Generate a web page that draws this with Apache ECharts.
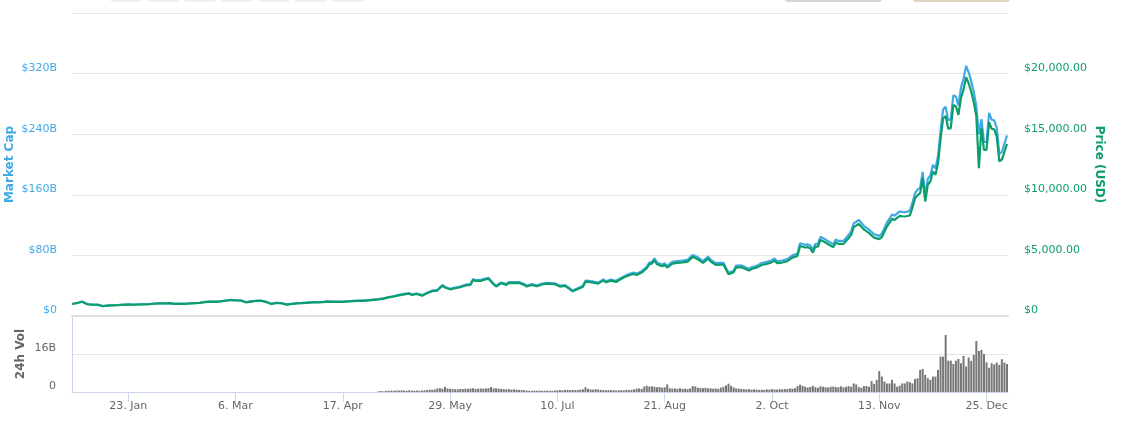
<!DOCTYPE html>
<html>
<head>
<meta charset="utf-8">
<style>
  html, body { margin: 0; padding: 0; background: #ffffff; }
  #chart { width: 1122px; height: 422px; }
</style>
<script src="https://cdn.jsdelivr.net/npm/echarts@6/dist/echarts.min.js"></script>
</head>
<body>
<div id="chart"></div>
<script>
// ---- x axis: days counted from 1 Jan 2017 ----
const tickDays   = [22, 64, 106, 148, 190, 232, 274, 316, 358];
const tickLabels = ['23. Jan', '6. Mar', '17. Apr', '29. May', '10. Jul', '21. Aug', '2. Oct', '13. Nov', '25. Dec'];
const lastDay = 366.4;

// ---- sample days for the price / market-cap lines ----
const days = [
  0,2,4,6,8,10,12,14,16,18,
  20,22,24,26,28,30,32,34,36,38,
  40,42,44,46,48,50,52,54,56,58,
  60,62,64,66,68,70,72,74,76,78,
  80,82,84,86,88,90,92,94,96,98,
  100,102,104,106,108,110,112,114,116,118,
  120,122,124,126,128,130,132,133,135,137,
  139,141,143,145,146,148,150,152,154,156,
  157,158,160,161,163,165,166,168,170,171,
  173,175,177,178,180,182,184,186,188,189,
  191,193,194,196,198,200,201,203,206,208,
  209,211,213,214,216,218,220,221,223,225,
  226,227,228,229,231,232,233,235,237,239,
  241,243,245,247,249,250,252,254,255,257,
  259,260,262,263,265,266,268,270,272,274,
  275,276,278,280,282,284,285,287,288,289,
  290,291,292,293,295,296,298,299,300,302,
  304,305,306,308,310,312,314,316,317,318,
  319,321,322,324,325,326,327,328,329,330,
  331,332,333,334,335,336,337,338,339,340,
  341,342,343,344,345,346,347,348,349,350,
  351,352,353,354,355,356,357,358,359,360,
  361,362,363,364,365,366
];

// ---- price (USD) ----
const price = [
  990,1070,1180,970,930,930,820,860,880,900,
  930,950,930,950,960,970,1010,1040,1030,1060,
  1000,1010,1000,1030,1060,1080,1150,1180,1170,1200,
  1260,1320,1290,1280,1130,1190,1240,1260,1150,990,
  1080,1050,940,990,1040,1060,1090,1120,1130,1140,
  1190,1170,1160,1170,1200,1220,1240,1250,1290,1330,
  1370,1430,1540,1610,1700,1790,1845,1740,1820,1680,
  1870,2050,2100,2500,2350,2200,2290,2370,2520,2570,
  2970,2890,2900,2970,3080,2620,2430,2700,2570,2720,
  2730,2720,2570,2430,2560,2450,2600,2670,2640,2620,
  2430,2480,2340,2040,2230,2420,2830,2800,2670,2940,
  2780,2920,2800,2950,3170,3360,3470,3390,3580,3940,
  4270,4320,4600,4270,4100,4210,4000,4320,4380,4430,
  4490,4880,4680,4380,4740,4490,4220,4240,4240,3440,
  3610,4020,4020,3940,3750,3880,3990,4210,4300,4440,
  4570,4350,4410,4520,4820,4960,5780,5650,5680,5590,
  5230,5730,5730,6280,6060,5920,5680,6060,5950,5950,
  6420,6690,7330,7600,7140,6840,6470,6340,6500,6950,
  7380,8020,7930,8260,8230,8210,8250,8300,8950,9700,
  9980,10140,11380,9450,10830,11100,11930,11650,12600,14600,
  16300,16500,15450,15500,17400,17300,16600,18000,18700,19700,
  19200,18500,17650,16500,12200,15500,13700,13700,16000,15450,
  15400,14800,12750,12900,13550,14200
];

// ---- market cap (billion USD) ----
const marketCap = [
  15.9,17.2,19.0,15.6,15.0,15.0,13.2,13.9,14.2,14.5,
  15.0,15.3,15.0,15.3,15.5,15.7,16.3,16.8,16.6,17.1,
  16.2,16.3,16.2,16.7,17.1,17.5,18.6,19.1,18.9,19.4,
  20.4,21.4,20.9,20.7,18.3,19.3,20.1,20.4,18.7,16.1,
  17.5,17.0,15.3,16.1,16.9,17.2,17.7,18.2,18.4,18.5,
  19.4,19.0,18.9,19.1,19.5,19.9,20.2,20.4,21.0,21.7,
  22.3,23.3,25.1,26.3,27.8,29.2,30.1,28.4,29.7,27.5,
  30.6,33.5,34.3,40.9,38.4,36.0,37.5,38.8,41.3,42.1,
  48.7,47.3,47.5,48.7,50.5,43.0,39.8,44.3,42.2,44.6,
  44.8,44.7,42.2,39.9,42.1,40.3,42.7,43.9,43.4,43.1,
  40.0,40.8,38.5,33.6,36.7,39.8,46.6,46.1,44.0,48.4,
  45.8,48.1,46.2,48.6,52.3,55.4,57.3,55.9,59.1,65.1,
  70.5,71.3,76.0,70.5,67.7,69.6,66.1,71.4,72.4,73.3,
  74.3,80.7,77.5,72.5,78.5,74.4,69.9,70.2,70.3,57.0,
  59.8,66.6,66.7,65.3,62.2,64.4,66.2,69.9,71.4,73.7,
  75.9,72.3,73.3,75.1,80.1,82.5,96.1,94.0,94.5,93.0,
  87.0,95.3,95.4,104.5,100.9,98.6,94.6,100.9,99.1,99.1,
  107.0,111.5,122.2,126.7,119.1,114.1,107.9,105.8,108.5,116.0,
  123.2,133.9,132.4,138.0,137.5,137.2,137.8,138.7,149.6,162.1,
  166.8,169.5,190.3,158.0,181.1,185.6,199.6,194.9,210.8,244.3,
  272.8,276.2,258.6,259.5,291.3,289.7,278.0,301.5,313.2,330.0,
  321.7,310.0,295.8,276.5,240.0,259.8,229.7,229.7,268.3,259.1,
  258.3,248.3,213.9,216.5,227.4,238.3
];

// ---- 24h volume (billion USD), one bar per day starting at volumeFirstDay ----
const volumeFirstDay = 120;
const volume = [
  0.3,0.4,0.3,0.5,0.5,0.6,0.5,0.7,0.6,0.7,
  0.6,0.5,0.7,0.6,0.5,0.6,0.5,0.6,0.7,0.8,
  1.0,0.9,1.1,1.5,1.6,1.4,2.2,1.5,1.3,1.2,
  1.2,1.1,1.3,1.2,1.4,1.3,1.5,1.6,1.3,1.4,
  1.5,1.4,1.5,1.6,2.1,1.5,1.6,1.4,1.3,1.2,
  1.1,1.2,1.0,1.1,1.0,0.9,0.8,0.8,0.6,0.5,
  0.5,0.6,0.5,0.6,0.5,0.5,0.6,0.5,0.5,0.6,
  0.7,0.8,0.7,0.8,0.9,0.8,0.9,0.8,0.8,1.0,
  1.1,2.0,1.3,1.1,1.0,1.2,1.0,0.9,0.8,0.7,
  0.8,0.7,0.8,0.6,0.7,0.8,0.7,0.9,0.8,0.9,
  1.1,1.4,1.5,1.3,2.3,2.6,2.3,2.4,2.2,2.0,
  2.1,1.8,2.0,3.2,1.6,1.4,1.5,1.3,1.6,1.3,
  1.4,1.2,1.5,2.5,2.3,1.8,1.7,1.6,1.8,1.5,
  1.6,1.4,1.5,1.3,1.8,2.2,2.8,3.5,2.6,1.9,
  1.5,1.4,1.3,1.2,1.1,1.2,1.0,1.1,1.0,0.9,
  1.0,0.9,1.1,1.0,1.2,1.1,1.0,1.2,1.1,1.3,
  1.2,1.5,1.4,1.6,2.5,3.1,2.6,2.2,1.9,2.1,
  2.6,2.0,1.8,2.4,2.2,2.0,1.9,2.2,2.3,2.1,
  2.0,2.4,1.9,2.2,2.5,2.2,3.6,3.2,2.0,1.8,
  2.5,2.5,2.2,4.6,3.4,5.1,8.8,6.5,4.4,3.6,
  3.6,5.1,3.6,2.2,2.7,3.6,3.6,4.4,4.1,3.6,
  5.5,5.8,9.3,9.7,7.2,5.8,5.1,6.5,6.5,9.3,
  14.9,14.9,24.0,13.2,13.2,11.8,13.2,13.9,12.1,15.2,
  10.7,14.5,13.1,15.6,21.5,17.3,17.7,16.0,12.5,10.2,
  12.1,11.6,12.4,11.4,13.8,12.4,11.8
];

const BLUE = '#3fa9e6';
const GREEN = '#0b9e6b';
const GREY_TXT = '#666666';
const FONT = 'DejaVu Sans';

const capData = days.map((d, i) => [d, marketCap[i]]);
const priceData = days.map((d, i) => [d, price[i]]);
const volData = volume.map((v, i) => [volumeFirstDay + i, v]);

function fmtPrice(v) {
  if (v === 0) return '$0';
  return '$' + v.toLocaleString('en-US', { minimumFractionDigits: 2, maximumFractionDigits: 2 });
}

const chart = echarts.init(document.getElementById('chart'), null, { renderer: 'canvas' });

const topButtons = [];
[110, 147, 184, 221, 258, 295, 332].forEach(x => {
  topButtons.push({ type: 'rect', shape: { x: x, y: -20, width: 32, height: 21, r: 3 },
    style: { fill: '#f7f7f7', stroke: '#e6e6e6', lineWidth: 1 } });
});
topButtons.push({ type: 'rect', shape: { x: 786, y: -20, width: 95, height: 21, r: 2 },
  style: { fill: '#ffffff', stroke: '#c8c8c8', lineWidth: 1.5 } });
topButtons.push({ type: 'rect', shape: { x: 914, y: -20, width: 95, height: 21, r: 2 },
  style: { fill: '#ffffff', stroke: '#d6c7ab', lineWidth: 1.5 } });

chart.setOption({
  animation: false,
  backgroundColor: '#ffffff',
  textStyle: { fontFamily: FONT },
  graphic: topButtons,
  grid: [
    { left: 72, right: 114, top: 13, height: 303, containLabel: false, outerBoundsMode: 'none' },
    { left: 72, right: 114, top: 316, height: 76, containLabel: false, outerBoundsMode: 'none' }
  ],
  xAxis: [
    {
      type: 'value', gridIndex: 0, min: 0, max: lastDay,
      axisLine: { show: true, lineStyle: { color: '#e0e0e0', width: 2 } },
      axisTick: { show: false }, axisLabel: { show: false }, splitLine: { show: false }
    },
    {
      type: 'value', gridIndex: 1, min: 0, max: lastDay,
      axisLine: { show: true, lineStyle: { color: '#ccd6eb', width: 1 } },
      axisTick: { show: true, length: 10, customValues: tickDays, lineStyle: { color: '#ccd6eb' } },
      axisLabel: {
        show: true, customValues: tickDays, color: GREY_TXT, fontSize: 11, fontFamily: FONT, margin: 9,
        formatter: v => tickLabels[tickDays.indexOf(v)] || ''
      },
      splitLine: { show: false }
    }
  ],
  yAxis: [
    {
      type: 'value', gridIndex: 0, position: 'left', min: 0, max: 400, interval: 80,
      name: 'Market Cap', nameLocation: 'middle', nameRotate: 90, nameGap: 56, nameMoveOverlap: false,
      nameTextStyle: { color: BLUE, fontWeight: 'bold', fontSize: 12, fontFamily: FONT },
      axisLine: { show: false }, axisTick: { show: false },
      axisLabel: {
        color: BLUE, fontSize: 11, fontFamily: FONT, margin: 15, verticalAlign: 'bottom',
        showMaxLabel: false, formatter: v => (v === 0 ? '$0' : '$' + v + 'B')
      },
      splitLine: { lineStyle: { color: '#e6e6e6', width: 1 } }
    },
    {
      type: 'value', gridIndex: 0, position: 'right', min: 0, max: 25000, interval: 5000,
      name: 'Price (USD)', nameLocation: 'middle', nameRotate: -90, nameGap: 85, nameMoveOverlap: false,
      nameTextStyle: { color: GREEN, fontWeight: 'bold', fontSize: 12, fontFamily: FONT },
      axisLine: { show: false }, axisTick: { show: false },
      axisLabel: {
        color: GREEN, fontSize: 11, fontFamily: FONT, margin: 16, verticalAlign: 'bottom',
        showMaxLabel: false, formatter: fmtPrice
      },
      splitLine: { show: false }
    },
    {
      type: 'value', gridIndex: 1, position: 'left', min: 0, max: 32, interval: 16, offset: 2,
      name: '24h Vol', nameLocation: 'middle', nameRotate: 90, nameGap: 43, nameMoveOverlap: false,
      nameTextStyle: { color: GREY_TXT, fontWeight: 'bold', fontSize: 12, fontFamily: FONT },
      axisLine: { show: true, lineStyle: { color: '#ccd6eb' } }, axisTick: { show: false },
      axisLabel: {
        color: GREY_TXT, fontSize: 11, fontFamily: FONT, margin: 14, verticalAlign: 'bottom',
        showMaxLabel: false, formatter: v => (v === 0 ? '0' : v + 'B')
      },
      splitLine: { lineStyle: { color: '#e6e6e6', width: 1 } }
    }
  ],
  series: [
    {
      name: 'Market Cap', type: 'line', xAxisIndex: 0, yAxisIndex: 0, data: capData,
      showSymbol: false, symbol: 'none', z: 2,
      lineStyle: { color: BLUE, width: 2.2 }
    },
    {
      name: 'Price', type: 'line', xAxisIndex: 0, yAxisIndex: 1, data: priceData,
      showSymbol: false, symbol: 'none', z: 3,
      lineStyle: { color: GREEN, width: 2.2 }
    },
    {
      name: '24h Vol', type: 'bar', xAxisIndex: 1, yAxisIndex: 2, data: volData,
      barWidth: 2, itemStyle: { color: '#777777' }
    }
  ]
});
</script>
</body>
</html>
